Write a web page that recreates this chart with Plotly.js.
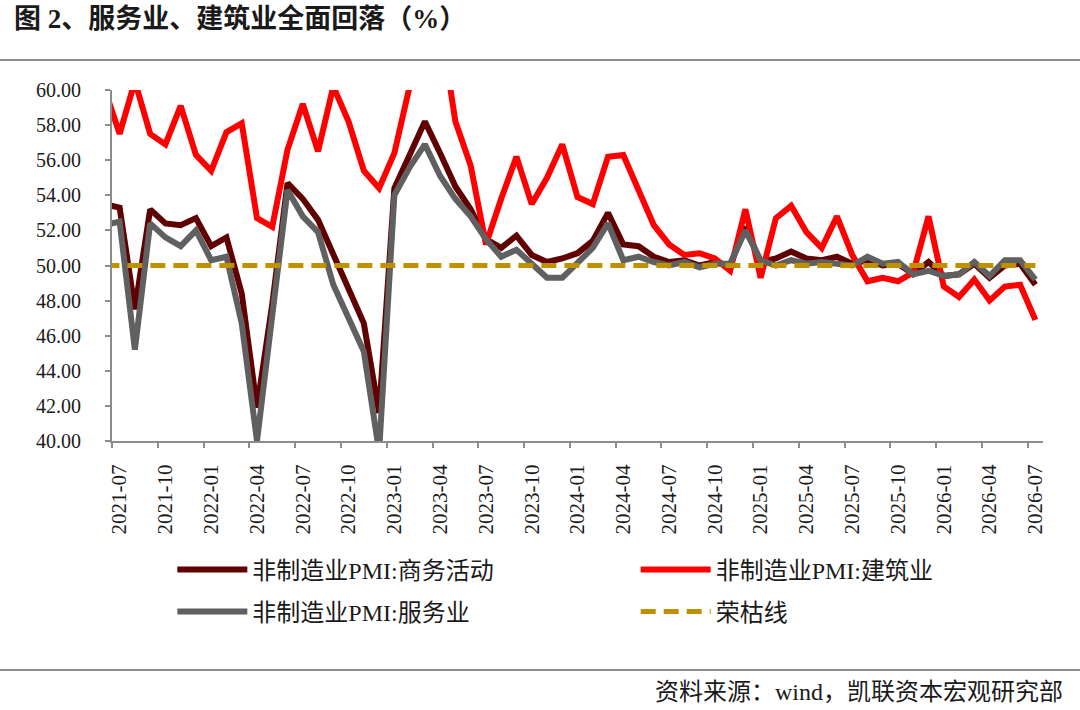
<!DOCTYPE html>
<html>
<head>
<meta charset="utf-8">
<script src="https://cdn.plot.ly/plotly-3.0.1.min.js"></script>
<style>
  html, body { margin: 0; padding: 0; background: #fff; }
  #chart { width: 1080px; height: 710px; }
</style>
</head>
<body>
<div id="chart"></div>
<script>
// months, 2021-06 (cut off at the left edge) to 2026-07
var months = [
  '2021-06','2021-07','2021-08','2021-09','2021-10','2021-11','2021-12',
  '2022-01','2022-02','2022-03','2022-04','2022-05','2022-06','2022-07','2022-08','2022-09','2022-10','2022-11','2022-12',
  '2023-01','2023-02','2023-03','2023-04','2023-05','2023-06','2023-07','2023-08','2023-09','2023-10','2023-11','2023-12',
  '2024-01','2024-02','2024-03','2024-04','2024-05','2024-06','2024-07','2024-08','2024-09','2024-10','2024-11','2024-12',
  '2025-01','2025-02','2025-03','2025-04','2025-05','2025-06','2025-07','2025-08','2025-09','2025-10','2025-11','2025-12',
  '2026-01','2026-02','2026-03','2026-04','2026-05','2026-06','2026-07'
];

var business = [
  53.5, 53.3, 47.5, 53.2, 52.4, 52.3, 52.7,
  51.1, 51.6, 48.4, 41.9, 47.8, 54.7, 53.8, 52.6, 50.6, 48.7, 46.7, 41.6,
  54.4, 56.3, 58.2, 56.4, 54.5, 53.2, 51.5, 51.0, 51.7, 50.6, 50.2, 50.4,
  50.7, 51.4, 53.0, 51.2, 51.1, 50.5, 50.2, 50.3, 50.0, 50.2, 50.0, 52.2,
  50.2, 50.4, 50.8, 50.4, 50.3, 50.5, 50.1, 50.3, 50.0, 50.1, 49.5, 50.2,
  49.4, 49.5, 50.1, 49.3, 50.0, 50.1, 48.9
];

var construction = [
  60.1, 57.5, 60.5, 57.5, 56.9, 59.1, 56.3,
  55.4, 57.6, 58.1, 52.7, 52.2, 56.6, 59.2, 56.5, 60.2, 58.2, 55.4, 54.4,
  56.4, 60.2, 65.6, 63.9, 58.2, 55.7, 51.2, 53.8, 56.2, 53.5, 55.0, 56.9,
  53.9, 53.5, 56.2, 56.3, 54.4, 52.3, 51.2, 50.6, 50.7, 50.4, 49.7, 53.2,
  49.3, 52.7, 53.4, 51.9, 51.0, 52.8, 50.6, 49.1, 49.3, 49.1, 49.6, 52.8,
  48.8, 48.2, 49.2, 48.0, 48.8, 48.9, 46.9
];

var services = [
  52.3, 52.5, 45.2, 52.4, 51.6, 51.1, 52.0,
  50.3, 50.5, 46.7, 40.0, 47.1, 54.3, 52.8, 51.9, 48.9, 47.0, 45.1, 39.4,
  54.0, 55.6, 56.9, 55.1, 53.8, 52.8, 51.5, 50.5, 50.9, 50.1, 49.3, 49.3,
  50.1, 51.0, 52.4, 50.3, 50.5, 50.2, 50.0, 50.2, 49.9, 50.1, 50.1, 52.0,
  50.3, 50.0, 50.3, 50.1, 50.2, 50.1, 50.0, 50.5, 50.1, 50.2, 49.5, 49.7,
  49.4, 49.5, 50.2, 49.4, 50.3, 50.3, 49.2
];

var boomBust = [
  50, 50, 50, 50, 50, 50, 50,
  50, 50, 50, 50, 50, 50, 50, 50, 50, 50, 50, 50,
  50, 50, 50, 50, 50, 50, 50, 50, 50, 50, 50, 50,
  50, 50, 50, 50, 50, 50, 50, 50, 50, 50, 50, 50,
  50, 50, 50, 50, 50, 50, 50, 50, 50, 50, 50, 50,
  50, 50, 50, 50, 50, 50, 50
];

var seriesNames = ['非制造业PMI:商务活动', '非制造业PMI:建筑业', '非制造业PMI:服务业', '荣枯线'];

// category positions (index in months), labels every 3rd month from 2021-07
var xi = months.map(function (m, k) { return k; });
var labelIdx = [], labelText = [], boundIdx = [];
for (var k = 1; k < months.length; k += 3) {
  labelIdx.push(k);
  labelText.push(months[k]);
  boundIdx.push(k - 0.5);
}

var serif = 'Liberation Serif, Noto Sans CJK SC, serif';
var axisGrey = '#8c8c8c';

var data = [
  { x: xi, y: business, name: seriesNames[0], type: 'scatter', mode: 'lines',
    line: { color: '#600000', width: 6 }, legend: 'legend' },
  { x: xi, y: construction, name: seriesNames[1], type: 'scatter', mode: 'lines',
    line: { color: '#ff0000', width: 6 }, legend: 'legend2' },
  { x: xi, y: services, name: seriesNames[2], type: 'scatter', mode: 'lines',
    line: { color: '#606060', width: 6 }, legend: 'legend3' },
  { x: xi, y: boomBust, name: seriesNames[3], type: 'scatter', mode: 'lines',
    line: { color: '#bf9000', width: 5, dash: '15px,8px' }, legend: 'legend4',
    xaxis: 'x2' }
];

var xr = [0.5, months.length - 0.5];

function legendAt(x, y) {
  return {
    orientation: 'h', x: x, xanchor: 'left', y: y, yanchor: 'middle',
    itemwidth: 70,
    font: { family: serif, size: 24, color: '#1a1a1a' },
    bgcolor: 'rgba(0,0,0,0)'
  };
}

var layout = {
  width: 1080, height: 710,
  margin: { l: 112, r: 37, t: 90, b: 269 },
  paper_bgcolor: '#fff', plot_bgcolor: '#fff',
  showlegend: true,
  title: {
    text: '图 2、服务业、建筑业全面回落（%）',
    x: 14 / 1080, xref: 'container', xanchor: 'left',
    y: 1 - 19 / 710, yref: 'container', yanchor: 'middle',
    font: { family: serif, size: 27, weight: 'bold', color: '#1a1a1a' }
  },
  xaxis: {
    type: 'linear', range: xr,
    tickmode: 'array', tickvals: labelIdx, ticktext: labelText,
    tickangle: -90, ticks: '', ticklabelstandoff: 13,
    tickfont: { family: serif, size: 21, color: '#1a1a1a' },
    showline: true, linecolor: axisGrey, linewidth: 2,
    showgrid: false, zeroline: false
  },
  xaxis2: {
    type: 'linear', range: xr, overlaying: 'x', anchor: 'y', side: 'bottom',
    tickmode: 'array', tickvals: boundIdx, ticks: 'outside', ticklen: 6,
    tickwidth: 2, tickcolor: axisGrey, showticklabels: false,
    showline: false, showgrid: false, zeroline: false
  },
  yaxis: {
    range: [40, 60], dtick: 2, tick0: 40, tickformat: '.2f',
    ticks: 'outside', ticklen: 5, tickwidth: 2, tickcolor: axisGrey,
    ticklabelstandoff: 20,
    tickfont: { family: serif, size: 20, color: '#1a1a1a' },
    showline: true, linecolor: axisGrey, linewidth: 2,
    showgrid: false, zeroline: false
  },
  legend: legendAt(0.0648, -0.3675),
  legend2: legendAt(0.5625, -0.3675),
  legend3: legendAt(0.0648, -0.487),
  legend4: legendAt(0.5625, -0.487),
  shapes: [
    { type: 'line', xref: 'paper', yref: 'paper',
      x0: -112 / 931, x1: 968 / 931, y0: (441 - 60) / 351, y1: (441 - 60) / 351,
      line: { color: '#8c8c8c', width: 2 } },
    { type: 'line', xref: 'paper', yref: 'paper',
      x0: -112 / 931, x1: 968 / 931, y0: (441 - 670) / 351, y1: (441 - 670) / 351,
      line: { color: '#8c8c8c', width: 2 } }
  ],
  annotations: [
    { text: '资料来源：wind，凯联资本宏观研究部', xref: 'paper', yref: 'paper',
      x: (1065 - 112) / 931, xanchor: 'right', y: (441 - 692) / 351, yanchor: 'middle',
      showarrow: false, font: { family: serif, size: 24, color: '#1a1a1a' } }
  ]
};

Plotly.newPlot('chart', data, layout, { displayModeBar: false, staticPlot: true });
</script>
</body>
</html>
